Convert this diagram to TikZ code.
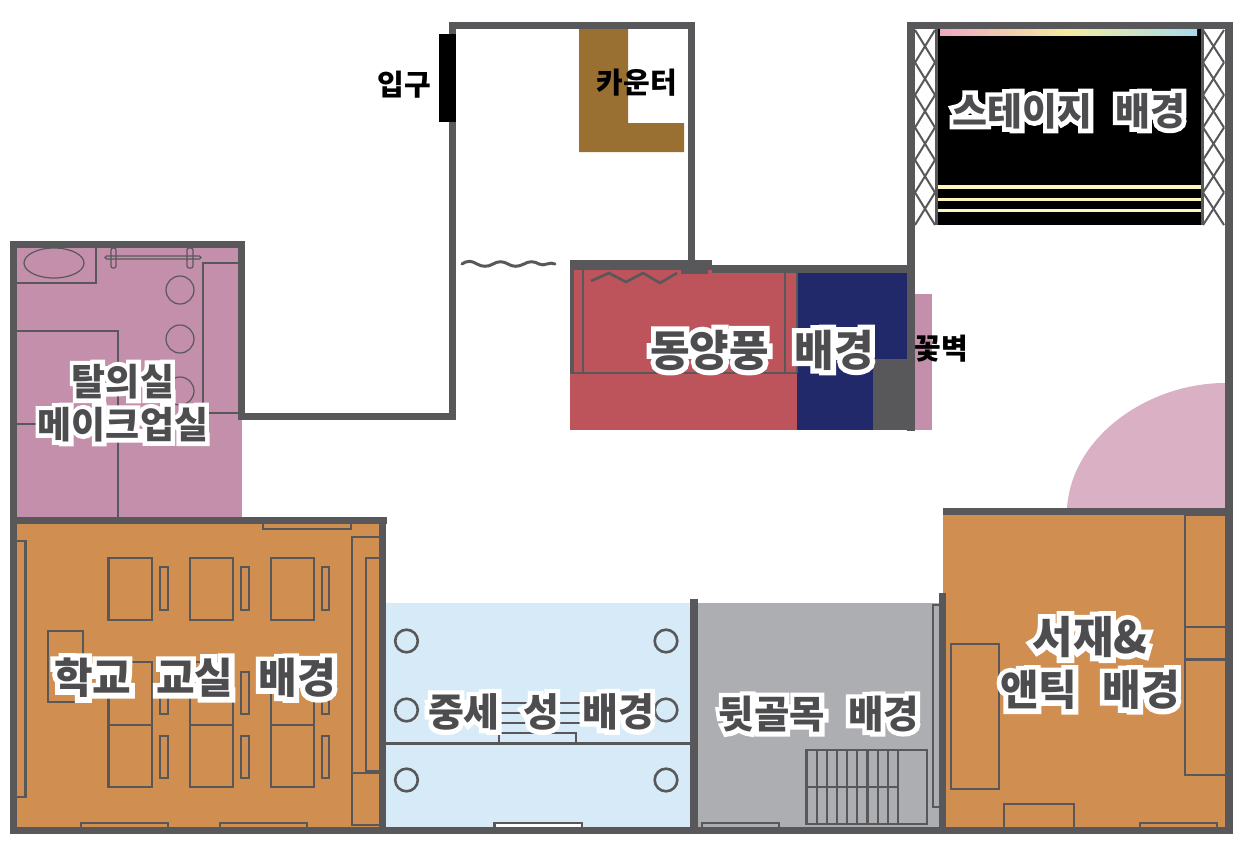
\documentclass[tikz,border=0pt]{standalone}
\usepackage{fontspec}
\newfontfamily\lblfont[WordSpace=2.6]{Noto Sans CJK KR}
\newfontfamily\halofont[WordSpace=2.6,BoldFeatures={FakeBold=24}]{Noto Sans CJK KR}
\definecolor{wallc}{HTML}{58585A}
\definecolor{lblc}{HTML}{4D4D4F}
\definecolor{pinkc}{HTML}{C48FAB}
\definecolor{domec}{HTML}{D9B0C4}
\definecolor{orangec}{HTML}{D08F50}
\definecolor{redc}{HTML}{BD535B}
\definecolor{navyc}{HTML}{21296B}
\definecolor{skyc}{HTML}{D6EBF7}
\definecolor{greyc}{HTML}{ADAEB2}
\definecolor{brownc}{HTML}{9A6F32}
\definecolor{creamc}{HTML}{FFF6BE}
\definecolor{rbpink}{HTML}{EFA9C3}
\definecolor{rbyellow}{HTML}{F3EC9E}
\definecolor{rbblue}{HTML}{A6DAEE}
\newcommand\halotxt[1]{\leavevmode\rlap{\special{pdf:code 1 1 1 RG 1 1 1 rg}\color{white}\special{pdf:code 1 1 1 RG 1 1 1 rg}\halofont\bfseries #1}{\color{lblc}\lblfont\bfseries #1}}
\tikzset{
  wall/.style={fill=wallc},
  ln/.style={draw=wallc,line width=1.2pt},
  lnb/.style={draw=wallc,line width=2.6pt},
  lbl/.style={align=center,inner sep=0pt},
  plain/.style={inner sep=0pt,font=\lblfont\bfseries\fontsize{29}{32}\selectfont,text=black},
}
\begin{document}
\begin{tikzpicture}[x=1pt,y=-1pt]
\useasboundingbox (0,0) rectangle (1236,844);
\fill[white] (0,0) rectangle (1236,844);
% room fills
\fill[pinkc] (17,248) rectangle (241.5,517);
\fill[orangec] (17,524) rectangle (379,827);
\fill[skyc] (386,603) rectangle (690,827);
\fill[greyc] (698,603) rectangle (939,827);
\fill[orangec] (943,515) rectangle (1225,827);
\fill[domec] (1067,508) .. controls (1072,435) and (1150,383) .. (1225,383) -- (1225,508) -- cycle;
\fill[redc] (570,270) rectangle (797,430);
\fill[navyc] (797,273) rectangle (907,430);
\fill[wallc] (873,359) rectangle (907,430);
\fill[pinkc] (914,294) rectangle (932,430);
\fill[brownc] (579,29) -- (628,29) -- (628,123) -- (684,123) -- (684,152) -- (579,152) -- cycle;
% stage
\fill[black] (936,29) rectangle (1202,225);
\shade[left color=rbpink,right color=rbblue,middle color=rbyellow] (940,29) rectangle (1197,35);
\fill[creamc] (936,185) rectangle (1202,189);
\fill[creamc] (936,197.5) rectangle (1202,200.5);
\fill[creamc] (936,208.5) rectangle (1202,211.5);
\foreach \xa/\xb in {915/935,1203/1224}{
  \foreach \i in {0,...,5}{
    \draw[wallc,line width=2pt] (\xa,30+\i*32.5) -- (\xb,62.5+\i*32.5);
    \draw[wallc,line width=2pt] (\xb,30+\i*32.5) -- (\xa,62.5+\i*32.5);
  }
}
\draw[wallc,line width=3pt] (936,29) -- (936,225);
\draw[wallc,line width=3pt] (1202,29) -- (1202,225);
% changing room furnishings
\draw[lnb] (17,283) -- (96,283) -- (96,248);
\draw[ln] (54,263) ellipse [x radius=30,y radius=15];
\draw[ln,rounded corners=1.5pt] (105,256) rectangle (201,259);
\draw[ln,rounded corners=2pt] (111,248) rectangle (116,268);
\draw[ln,rounded corners=2pt] (187,248) rectangle (193,268);
\draw[ln] (180,290) circle (14);
\draw[ln] (180,339) circle (14);
\draw[ln] (180,391) circle (14);
\draw[lnb] (238,263) -- (203,263) -- (203,413) -- (238,413);
\draw[lnb] (17,331) -- (118,331) -- (118,517);
\draw[lnb] (17,424) -- (118,424);
% classroom furnishings
\draw[lnb] (263,524) -- (263,529) -- (351,529) -- (351,524);
\draw[lnb] (17,541) -- (25.5,541) -- (25.5,797) -- (17,797);
\draw[lnb] (379,537) -- (352,537) -- (352,825) -- (379,825);
\draw[lnb] (379,558) -- (366,558) -- (366,771) -- (379,771);
\draw[lnb] (352,773) -- (379,773);
\foreach \xa/\xb/\xc/\xd in {108.7/152/160/168,190/233/241/249,271/314/322/329}{
  \draw[lnb] (\xa,558) rectangle (\xb,620);
  \draw[lnb] (\xa,662) rectangle (\xb,725);
  \draw[lnb] (\xa,725) rectangle (\xb,787);
  \draw[lnb] (\xc,567) rectangle (\xd,610);
  \draw[lnb] (\xc,672) rectangle (\xd,714);
  \draw[lnb] (\xc,736) rectangle (\xd,778);
}
\draw[lnb] (48,631) rectangle (83,702);
\draw[lnb] (81,827) -- (81,823) -- (168,823) -- (168,827);
\draw[lnb] (220,827) -- (220,823) -- (307,823) -- (307,827);
% medieval room furnishings
\draw[lnb] (386,743.5) -- (690,743.5);
\foreach \cx in {406.5,666}{\foreach \cy in {641,710,780}{
  \draw[lnb] (\cx,\cy) circle (11.3);
}}
\draw[lnb] (499,743) -- (499,733) -- (576,733) -- (576,743);
\foreach \sy in {703,713,723}{\draw[lnb] (497,\sy) -- (580,\sy);}
\draw[lnb,fill=white] (494.5,827) -- (494.5,823) -- (582,823) -- (582,827);
% alley furnishings
\draw[lnb] (702,827) -- (702,823) -- (779,823) -- (779,827);
\draw[lnb] (939,605) -- (933,605) -- (933,807) -- (939,807);
\draw[lnb] (806.5,750) rectangle (927,824);
\draw[lnb] (806.5,787) -- (898,787);
\foreach \k in {1,...,9}{\draw[draw=wallc,line width=2.1pt] (806.5+\k*10.17,750) -- (806.5+\k*10.17,824);}
% study furnishings
\draw[lnb] (951,644) rectangle (999,789);
\draw[lnb] (1225,515) -- (1185,515) -- (1185,775) -- (1225,775);
\draw[lnb] (1185,627) -- (1225,627);
\draw[line width=3pt,wallc] (1185,659) -- (1225,659);
\draw[lnb] (1004,827) -- (1004,804) -- (1074,804) -- (1074,827);
\draw[lnb] (1140,827) -- (1140,823) -- (1217,823) -- (1217,827);
% oriental room furnishings
\draw[lnb] (583,270) -- (583,373);
\draw[lnb] (785,273) -- (785,373);
\draw[lnb] (797,273) -- (797,373);
\draw[lnb] (570,373) -- (797,373);
\draw[lnb] (591,281) -- (609,273) -- (626,282) -- (643,273) -- (660,283) -- (677,273);
\fill[wall] (681,270) rectangle (708,273.5);
% waves
\draw[wallc,line width=3pt,line cap=round] (462,264) .. controls (468,260) and (472,261) .. (477,264) .. controls (482,267) and (488,267) .. (493,264) .. controls (498,261) and (503,261) .. (508,264) .. controls (513,267) and (518,267) .. (524,264) .. controls (529,261) and (534,261) .. (539,264) .. controls (544,267) and (550,261) .. (555,264);
% walls
\fill[wall] (9.5,241) rectangle (245,248);
\fill[wall] (9.5,241) rectangle (17,834);
\fill[wall] (238,241) rectangle (245,420);
\fill[wall] (238,413) rectangle (456,420);
\fill[wall] (9.5,517) rectangle (387,524);
\fill[wall] (379,517) rectangle (386,834);
\fill[wall] (9.5,827) rectangle (1233,834);
\fill[wall] (449,22) rectangle (695,29);
\fill[wall] (449,22) rectangle (456,420);
\fill[wall] (688,22) rectangle (695,270);
\fill[wall] (570,260) rectangle (712,270);
\fill[wall] (712,265) rectangle (914,273);
\fill[wall] (570,260) rectangle (574,373);
\fill[wall] (907,22) rectangle (914.5,431);
\fill[wall] (907,22) rectangle (1233,29);
\fill[wall] (1225,22) rectangle (1233,834);
\fill[wall] (943,508) rectangle (1225,515);
\fill[wall] (939,593) rectangle (946,834);
\fill[wall] (690,599) rectangle (698,834);
\fill[black] (439,34) rectangle (456,122);
% labels
\node[plain] (entrance) at (404,85) {입구};
\node[plain] (counter) at (637,83) {카운터};
\node[plain] (flowerwall) at (941,349) {꽃벽};
\node[lbl,font=\fontsize{37}{43}\selectfont] (dress) at (123,403) {\halotxt{탈의실}\\\halotxt{메이크업실}};
\node[lbl,font=\fontsize{42}{48}\selectfont] (school) at (195,678) {\halotxt{학교 교실 배경}};
\node[lbl,font=\fontsize{39}{46}\selectfont] (medieval) at (541,712) {\halotxt{중세 성 배경}};
\node[lbl,font=\fontsize{38.5}{44}\selectfont] (alley) at (819,714) {\halotxt{뒷골목 배경}};
\node[lbl,font=\fontsize{43}{48}\selectfont] (oriental) at (762,350) {\halotxt{동양풍 배경}};
\node[lbl,font=\fontsize{38}{43}\selectfont] (stage) at (1069,111) {\halotxt{스테이지 배경}};
\node[lbl,font=\fontsize{42}{52}\selectfont] (study) at (1090,663) {\fontsize{44}{52}\selectfont\halotxt{서재\&}\\\fontsize{42}{52}\selectfont\halotxt{앤틱 배경}};
\end{tikzpicture}
\end{document}
